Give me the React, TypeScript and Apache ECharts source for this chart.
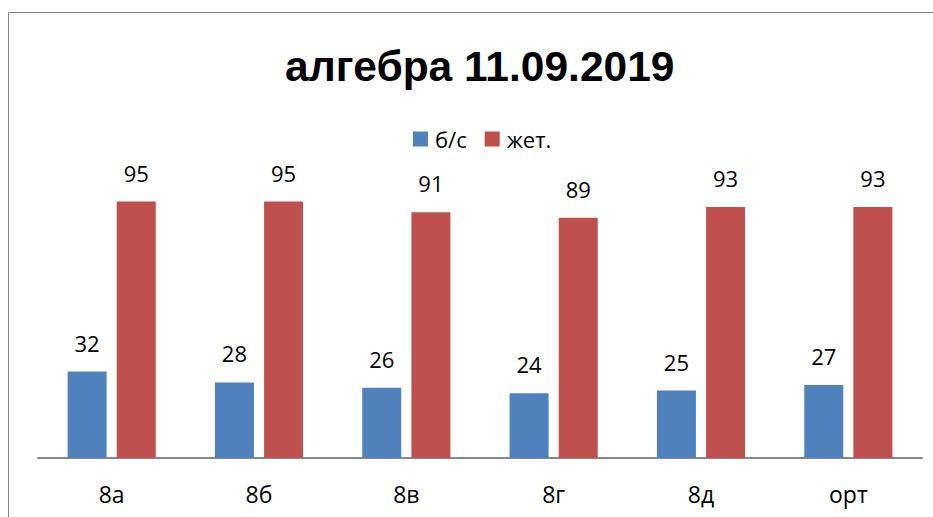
import React, { useEffect, useRef } from "react";
import * as echarts from "echarts";

const categories = ["8а", "8б", "8в", "8г", "8д", "орт"];
const seriesNames = ["б/с", "жет."];
const bsValues = [32, 28, 26, 24, 25, 27];
const zhetValues = [95, 95, 91, 89, 93, 93];

export default function App() {
  const ref = useRef<HTMLDivElement>(null);
  useEffect(() => {
    const chart = echarts.init(ref.current!, null, { renderer: "svg" });
    const font = "'Open Sans', 'Noto Sans', sans-serif";
    const label = {
      show: true,
      position: "top" as const,
      distance: 18,
      color: "#000",
      fontSize: 22,
      fontFamily: font,
    };
    chart.setOption({
      animation: false,
      backgroundColor: "#fff",
      title: {
        text: "алгебра 11.09.2019",
        left: 280,
        top: 40,
        textStyle: { fontSize: 42.5, fontWeight: "bold", color: "#000", fontFamily: "'Liberation Sans', Arial, sans-serif" },
      },
      legend: {
        top: 123,
        left: 408,
        itemWidth: 15,
        itemHeight: 15,
        itemGap: 18,
        icon: "rect",
        textStyle: { fontSize: 22, color: "#000", fontFamily: font, padding: [0, 0, 0, 2] },
        data: seriesNames,
      },
      grid: { left: 38, right: 11, top: 188, bottom: 59 },
      xAxis: {
        type: "category",
        data: categories,
        axisLine: { lineStyle: { color: "#888", width: 2 } },
        axisTick: { show: false },
        axisLabel: { fontSize: 23, color: "#000", margin: 24, fontFamily: font },
      },
      yAxis: { type: "value", min: 0, max: 100, show: false, splitLine: { show: false } },
      graphic: [
        { type: "line", shape: { x1: 8.5, y1: 12.5, x2: 933, y2: 12.5 }, style: { stroke: "#888", lineWidth: 1 } },
        { type: "line", shape: { x1: 8.5, y1: 12.5, x2: 8.5, y2: 517 }, style: { stroke: "#888", lineWidth: 1 } },
      ],
      series: [
        { name: seriesNames[0], type: "bar", data: bsValues, barWidth: 39, barGap: "26%", itemStyle: { color: "#4F81BD" }, label },
        { name: seriesNames[1], type: "bar", data: zhetValues, barWidth: 39, itemStyle: { color: "#C0504D" }, label },
      ],
    });
    return () => chart.dispose();
  }, []);
  return <div ref={ref} style={{ position: "absolute", left: 0, top: 0, width: 933, height: 517 }} />;
}
